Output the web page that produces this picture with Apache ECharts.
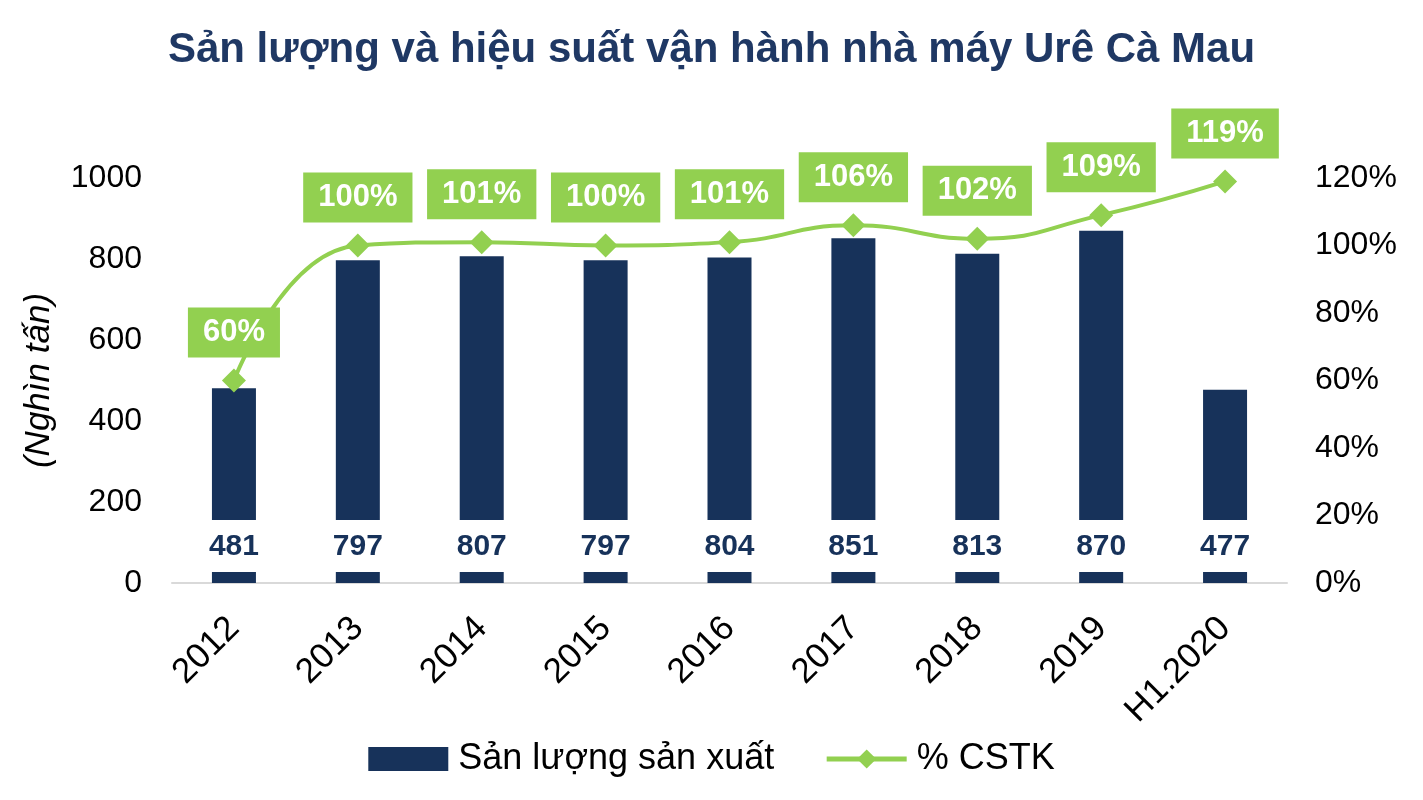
<!DOCTYPE html>
<html>
<head>
<meta charset="utf-8">
<script src="https://cdn.jsdelivr.net/npm/echarts@6/dist/echarts.min.js"></script>
<style>
  html, body { margin: 0; padding: 0; background: #fff; }
  #chart { width: 1423px; height: 800px; }
</style>
</head>
<body>
<div id="chart"></div>
<script>
var years = ['2012', '2013', '2014', '2015', '2016', '2017', '2018', '2019', 'H1.2020'];
var sanLuong = [481, 797, 807, 797, 804, 851, 813, 870, 477];
var cstk = [60, 100, 101, 100, 101, 106, 102, 109, 119];

var navy = '#17325A';
var green = '#92D050';
var font = 'Liberation Sans, Arial, sans-serif';

var chart = echarts.init(document.getElementById('chart'));

var option = {
  textStyle: { fontFamily: font },
  title: {
    text: 'Sản lượng và hiệu suất vận hành nhà máy Urê Cà Mau',
    left: 'center',
    top: 24,
    textStyle: {
      color: '#1F3864',
      fontSize: 42,
      fontWeight: 'bold',
      fontFamily: font
    }
  },
  legend: {
    bottom: 18,
    left: 'center',
    itemWidth: 80,
    itemHeight: 24,
    itemGap: 50,
    textStyle: { fontSize: 36, color: '#000', fontFamily: font, padding: [0, 0, 0, 5] },
    lineStyle: { width: 5 },
    data: [
      { name: 'Sản lượng sản xuất', icon: 'rect' },
      { name: '% CSTK' }
    ]
  },
  grid: {
    left: 172,
    right: 136,
    top: 178,
    bottom: 217
  },
  xAxis: {
    type: 'category',
    data: years,
    axisLine: { lineStyle: { color: '#D9D9D9', width: 2 } },
    axisTick: { show: false },
    axisLabel: {
      rotate: 45,
      fontSize: 35,
      color: '#000',
      margin: 40,
      interval: 0
    }
  },
  yAxis: [
    {
      type: 'value',
      min: 0,
      max: 1000,
      interval: 200,
      name: '(Nghìn tấn)',
      nameLocation: 'middle',
      nameGap: 115,
      nameTextStyle: { fontSize: 35, fontStyle: 'italic', color: '#000' },
      splitLine: { show: false },
      axisLine: { show: false },
      axisTick: { show: false },
      axisLabel: {
        fontSize: 32,
        color: '#000',
        margin: 30,
        formatter: function (v) { return String(v); }
      }
    },
    {
      type: 'value',
      min: 0,
      max: 120,
      interval: 20,
      splitLine: { show: false },
      axisLine: { show: false },
      axisTick: { show: false },
      axisLabel: { fontSize: 32, color: '#000', margin: 28, formatter: '{value}%' }
    }
  ],
  series: [
    {
      name: 'Sản lượng sản xuất',
      type: 'bar',
      data: sanLuong,
      barWidth: 44,
      itemStyle: { color: navy },
      label: {
        show: true,
        position: 'insideBottom',
        distance: 11,
        color: navy,
        fontSize: 30,
        fontWeight: 'bold',
        backgroundColor: '#fff',
        padding: [10, 6, 8, 6],
        lineHeight: 34
      }
    },
    {
      name: '% CSTK',
      type: 'line',
      yAxisIndex: 1,
      data: cstk,
      smooth: 0.5,
      symbol: 'diamond',
      symbolSize: 24,
      lineStyle: { color: green, width: 4 },
      itemStyle: { color: green },
      label: {
        show: true,
        position: 'top',
        distance: 11,
        formatter: '{c}%',
        color: '#fff',
        fontSize: 31,
        fontWeight: 'bold',
        backgroundColor: green,
        padding: [8, 15, 8, 15],
        lineHeight: 34
      }
    }
  ]
};

chart.setOption(option);
</script>
</body>
</html>
